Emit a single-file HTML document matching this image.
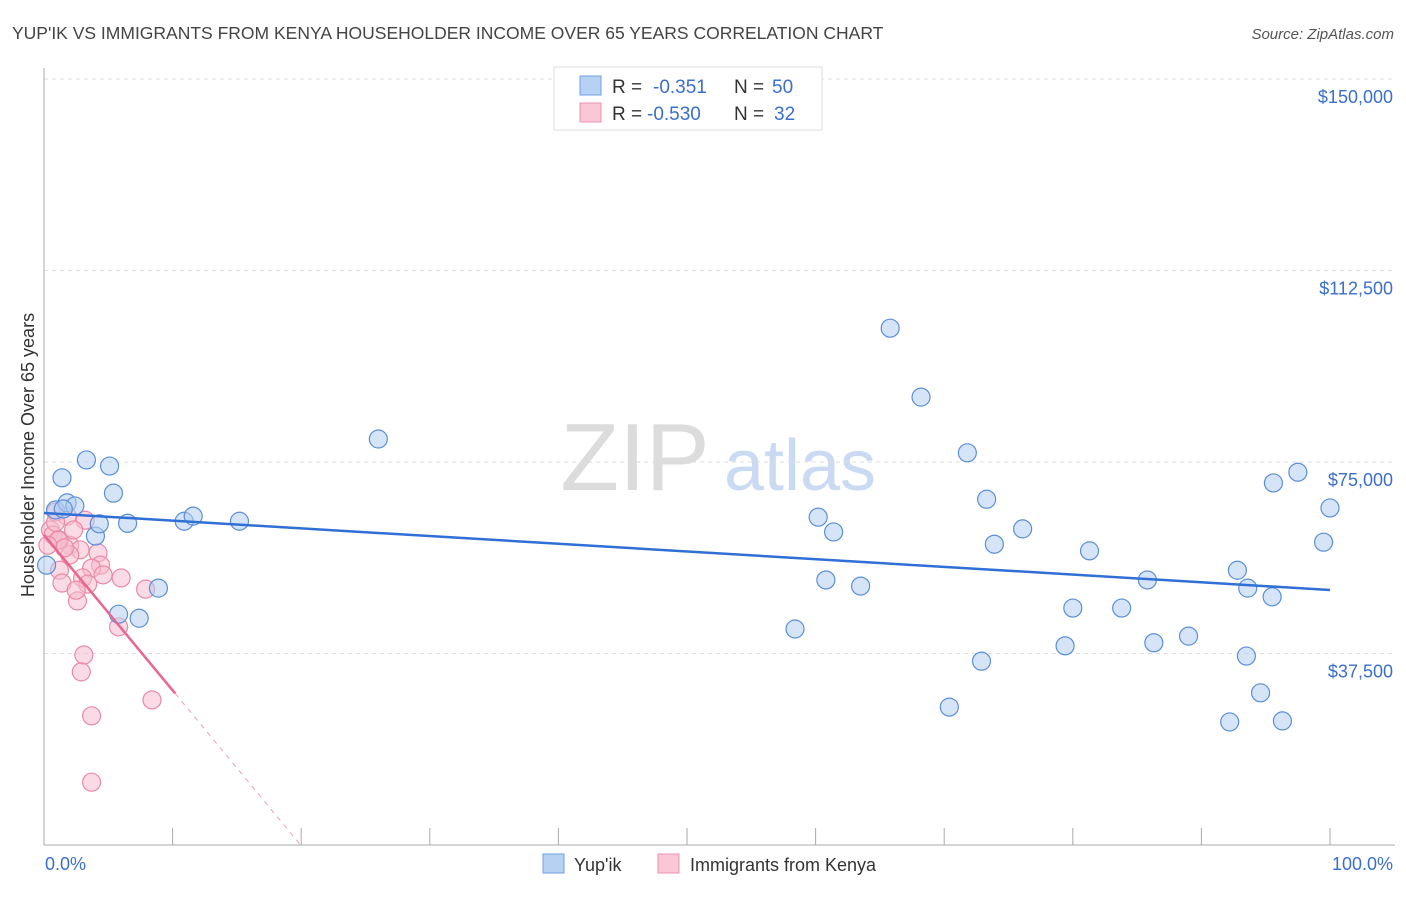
<!DOCTYPE html>
<html><head><meta charset="utf-8"><style>
body{margin:0;background:#fff;font-family:"Liberation Sans",sans-serif;}
svg text{font-family:"Liberation Sans",sans-serif;}
</style></head><body>
<svg id="c" width="1406" height="892">
<text x="12" y="39" font-size="17.5" fill="#444">YUP'IK VS IMMIGRANTS FROM KENYA HOUSEHOLDER INCOME OVER 65 YEARS CORRELATION CHART</text>
<text x="1394" y="39" font-size="15" fill="#555" font-style="italic" text-anchor="end">Source: ZipAtlas.com</text>
<g>
<text x="635" y="490" font-size="96" fill="#dcdcdc" font-family="Liberation Serif" text-anchor="middle">ZIP</text>
<text x="800" y="490" font-size="72" fill="#c9daf2" text-anchor="middle">atlas</text>
</g>
<g id="grid"></g><g id="axes"></g><g id="pts"></g><g id="trend"></g>
<text transform="translate(34,455) rotate(-90)" font-size="18" fill="#333" text-anchor="middle">Householder Income Over 65 years</text>
<text x="45" y="870" font-size="18" fill="#3b6fcc">0.0%</text>
<text x="1393" y="870" font-size="18" fill="#3b6fcc" text-anchor="end">100.0%</text>
<g>
<rect x="554" y="67" width="268" height="63" fill="#fff" stroke="#ddd"/>
<g><rect x="580" y="76" width="21" height="19" fill="#b7d1f4" stroke="#6f9fe0"/>
<text x="612" y="93" font-size="19" fill="#333">R = </text><text x="653" y="93" font-size="19" fill="#3b6fcc">-0.351</text>
<text x="734" y="93" font-size="19" fill="#333">N = </text><text x="772" y="93" font-size="19" fill="#3b6fcc">50</text></g>
<g><rect x="580" y="103" width="21" height="19" fill="#f9c7d6" stroke="#ec93ae"/>
<text x="612" y="120" font-size="19" fill="#333">R = </text><text x="647" y="120" font-size="19" fill="#3b6fcc">-0.530</text>
<text x="734" y="120" font-size="19" fill="#333">N = </text><text x="774" y="120" font-size="19" fill="#3b6fcc">32</text></g>
</g>
<g>
<g><rect x="543" y="854" width="21" height="19" fill="#b7d1f4" stroke="#6f9fe0"/><text x="574" y="871" font-size="18" fill="#333">Yup'ik</text></g>
<g><rect x="658" y="854" width="21" height="19" fill="#f9c7d6" stroke="#ec93ae"/><text x="690" y="871" font-size="18" fill="#333">Immigrants from Kenya</text></g>
</g>
</svg>
<script>
const yTicks=[37500,75000,112500,150000];
const yTickLabels=["$37,500","$75,000","$112,500","$150,000"];
const xTicks=[0,10,20,30,40,50,60,70,80,90,100];
const blueX=[0.2,0.9,1.4,1.8,2.4,3.3,4.0,4.3,5.1,5.4,5.8,6.5,7.4,8.9,10.9,11.6,15.2,26.0,58.4,60.2,60.8,61.4,63.5,65.8,68.2,70.4,71.8,72.9,73.3,73.9,76.1,79.4,80.0,81.3,83.8,85.8,86.3,89.0,92.2,92.8,93.5,93.6,94.6,95.5,95.6,96.3,97.5,99.5,100,1.5];
const blueY=[54800,65600,71900,67000,66400,75400,60500,62900,74200,68900,45200,63000,44400,50300,63400,64400,63400,79500,42300,64200,51900,61300,50700,101200,87700,27000,76800,36000,67700,58900,61900,39000,46400,57600,46400,51900,39600,40900,24100,53800,37000,50300,29800,48600,70900,24300,73000,59300,66000,65800];
const pinkX=[0.9,1.8,0.5,0.7,1.2,2.0,2.8,2.0,4.2,4.4,3.7,4.6,3.0,3.4,1.2,1.4,2.6,2.5,6.0,7.9,5.8,3.1,2.9,3.7,8.4,3.7,1.1,1.6,0.3,3.2,2.3,0.9];
const pinkY=[65200,64400,61700,60700,59700,58700,57800,56800,57200,54800,54200,52900,52300,51100,53800,51300,47800,49900,52300,50100,42700,37200,33900,25300,28400,12300,59700,58200,58700,63600,61700,63200];
const NS="http://www.w3.org/2000/svg";
const X=p=>44+p*12.86, Y=v=>845-v/37500*191.5;
function mk(t,a,parent){const e=document.createElementNS(NS,t);for(const k in a)e.setAttribute(k,a[k]);document.getElementById(parent).appendChild(e);return e;}
yTicks.forEach((v,i)=>{
 const l=mk('line',{x1:44,x2:1395,y1:Y(v),y2:Y(v),stroke:'#ddd','stroke-dasharray':'4,4'},'grid');
 
 
 const t=mk('text',{x:1393,y:Y(v)+24,'font-size':18,fill:'#3b6fcc','text-anchor':'end'},'grid');t.textContent=yTickLabels[i];
 
 
});
const ya=mk('line',{x1:44,x2:44,y1:68,y2:845,stroke:'#aaa'},'axes');


const xa=mk('line',{x1:44,x2:1395,y1:845,y2:845,stroke:'#aaa'},'axes');


xTicks.forEach(p=>{const t=mk('line',{x1:X(p),x2:X(p),y1:828,y2:845,stroke:'#aaa'},'axes');
 
 });
function pts(xs,ys,fill,stroke,name){xs.forEach((x,i)=>{const c=mk('circle',{cx:X(x),cy:Y(ys[i]),r:9,fill:fill,'fill-opacity':0.55,stroke:stroke,'stroke-width':1.2},'pts');
 
 });}
pts(pinkX,pinkY,'#f6bccd','#e98aa7','kenya-point');
pts(blueX,blueY,'#b3cdf1','#5b8fd8','yupik-point');
function reg(xs,ys){const n=xs.length;let mx=0,my=0;for(let i=0;i<n;i++){mx+=xs[i];my+=ys[i];}mx/=n;my/=n;let sxy=0,sxx=0;for(let i=0;i<n;i++){sxy+=(xs[i]-mx)*(ys[i]-my);sxx+=(xs[i]-mx)**2;}const b=sxy/sxx;return[my-b*mx,b];}
const [ba,bb]=reg(blueX,blueY);
const bl=mk('line',{x1:X(0),y1:Y(ba),x2:X(100),y2:Y(ba+bb*100),stroke:'#2f6fd6','stroke-width':2.5},'trend');


const [pa,pb]=reg(pinkX,pinkY);
const pmax=Math.max(...pinkX)+1.8;
const pl=mk('line',{x1:X(0),y1:Y(pa),x2:X(pmax),y2:Y(pa+pb*pmax),stroke:'#e8668f','stroke-width':2.5},'trend');


const pz=pb<0?Math.min(-pa/pb,100):100;
const pd=mk('line',{x1:X(pmax),y1:Y(pa+pb*pmax),x2:X(pz),y2:Y(pa+pb*pz),stroke:'#e8a0b8','stroke-width':1,'stroke-dasharray':'5,5'},'trend');


</script>
</body></html>
